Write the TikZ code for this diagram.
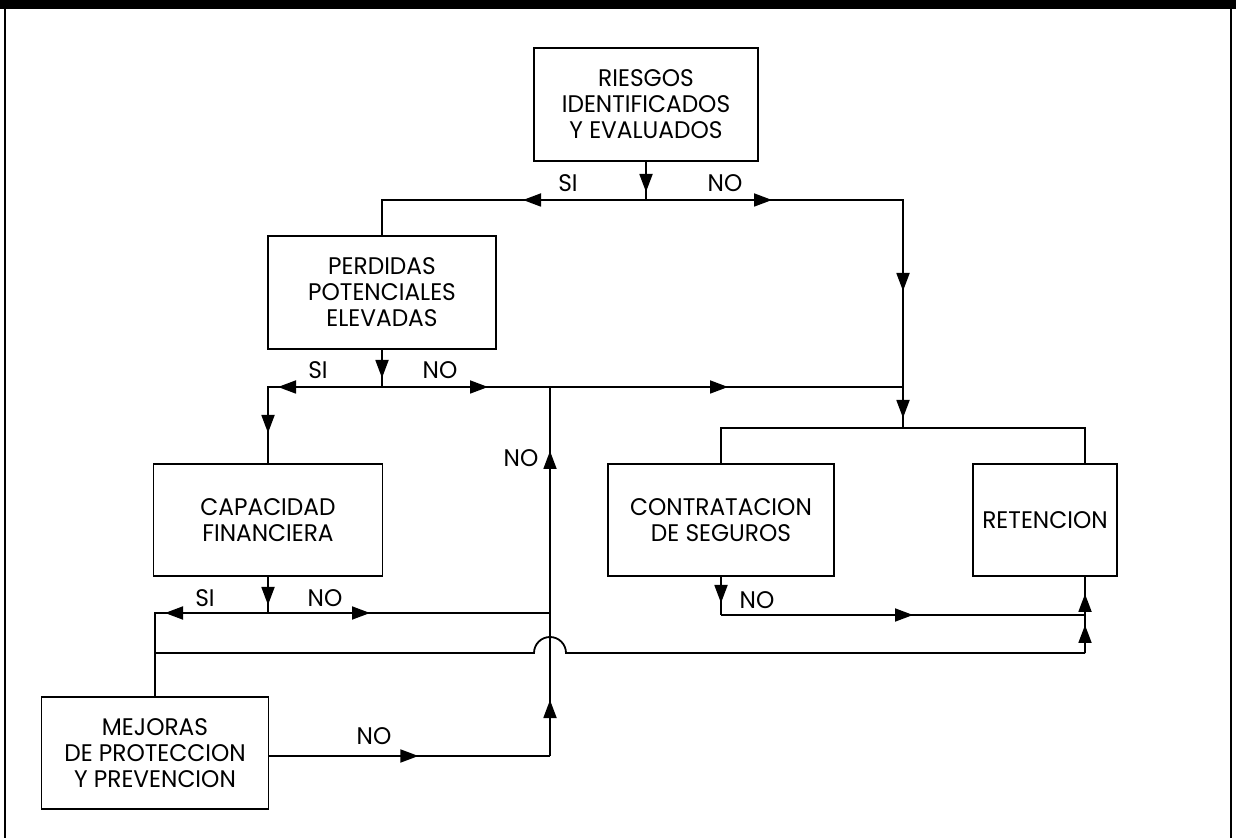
\documentclass[tikz,border=0pt]{standalone}
\usepackage{fontspec}
\setmainfont{Poppins}[FakeStretch=0.97]
\usetikzlibrary{arrows.meta,decorations.markings}
\begin{document}
\begin{tikzpicture}[x=0.5pt,y=-0.5pt,
  box/.style={draw, line width=0.9pt, inner sep=0pt, align=center,
    font=\fontsize{12}{13}\selectfont},
  lbl/.style={inner sep=0pt, font=\fontsize{12}{13}\selectfont},
  ln/.style={line width=0.9pt},
  tipat/.style={postaction={decorate, decoration={markings,
    mark=at position #1 with {\arrow{Triangle[length=9pt,width=6.5pt]}}}}}]
\useasboundingbox (0,0) rectangle (1236,838);
% frame
\fill (0,0) rectangle (1236,9);
\draw[line width=1pt] (5,0) -- (5,838);
\draw[line width=1pt] (1231,0) -- (1231,838);
% boxes
\node[box, minimum width=112pt, minimum height=56.5pt] (riesgos) at (646,104.5)
  {RIESGOS\\IDENTIFICADOS\\Y EVALUADOS};
\node[box, minimum width=114pt, minimum height=56.5pt] (perdidas) at (382,292.5)
  {PERDIDAS\\POTENCIALES\\ELEVADAS};
\node[box, minimum width=114.5pt, minimum height=56pt] (capacidad) at (268,520)
  {CAPACIDAD\\FINANCIERA};
\node[box, minimum width=113pt, minimum height=56pt] (contrat) at (721,520)
  {CONTRATACION\\DE SEGUROS};
\node[box, minimum width=72pt, minimum height=56pt] (retencion) at (1045,520)
  {RETENCION};
\node[box, minimum width=113.5pt, minimum height=56pt] (mejoras) at (155,753)
  {MEJORAS\\DE PROTECCION\\Y PREVENCION};
% junctions
\coordinate (j1) at (646,200); \coordinate (l1) at (382,200); \coordinate (r1) at (903,200);
\coordinate (r2) at (903,387); \coordinate (r3) at (903,428);
\coordinate (dl) at (721,428); \coordinate (dr) at (1085,428);
\coordinate (j2) at (382,387); \coordinate (l2) at (268,387); \coordinate (v1) at (550,387);
\coordinate (j3) at (268,613); \coordinate (l3) at (155,613); \coordinate (v2) at (550,613);
\coordinate (h0) at (155,653); \coordinate (h1) at (534,653); \coordinate (h3) at (1085,653);
\coordinate (k1) at (721,615); \coordinate (k2) at (1085,615);
\coordinate (v3) at (550,756);
% riesgos
\draw[ln, tipat=-4pt] (riesgos.south) -- (j1);
\draw[ln, tipat=61.5pt] (j1) -- (l1) -- (perdidas.north);
\draw[ln, tipat=63pt, tipat=174pt, tipat=237.5pt] (j1) -- (r1) -- (r3);
\draw[ln] (contrat.north) -- (dl) -- (dr) -- (dr |- retencion.north);
% perdidas
\draw[ln, tipat=-4.5pt] (perdidas.south) -- (j2);
\draw[ln, tipat=52pt, tipat=80pt] (j2) -- (l2) -- (capacidad.north);
\draw[ln, tipat=53pt, tipat=173pt] (j2) -- (r2);
% capacidad
\draw[ln, tipat=-4pt] (capacidad.south) -- (j3);
\draw[ln, tipat=51.5pt] (j3) -- (l3) -- (mejoras.north);
\draw[ln, tipat=51pt] (j3) -- (v2);
\draw[ln] (h0) -- (h1) arc[start angle=180, end angle=360, radius=16] -- (h3);
\draw[ln, tipat=14pt] (h3) -- (k2);
\draw[ln, tipat=-8.5pt] (k2) -- (k2 |- retencion.south);
% contratacion
\draw[ln, tipat=-6pt] (contrat.south) -- (k1);
\draw[ln, tipat=96pt] (k1) -- (k2);
% mejoras
\draw[ln, tipat=74.5pt] (mejoras.east |- v3) -- (v3);
\draw[ln, tipat=28pt, tipat=152.5pt] (v3) -- (v1);
% labels
\node[lbl] (si1) at (568,183) {SI};
\node[lbl] (no1) at (725,183) {NO};
\node[lbl] (si2) at (318,370) {SI};
\node[lbl] (no2) at (440,370) {NO};
\node[lbl] (si3) at (205,598) {SI};
\node[lbl] (no3) at (325,598) {NO};
\node[lbl] (no4) at (521,458) {NO};
\node[lbl] (no5) at (757,600) {NO};
\node[lbl] (no6) at (374,736) {NO};
\end{tikzpicture}
\end{document}
